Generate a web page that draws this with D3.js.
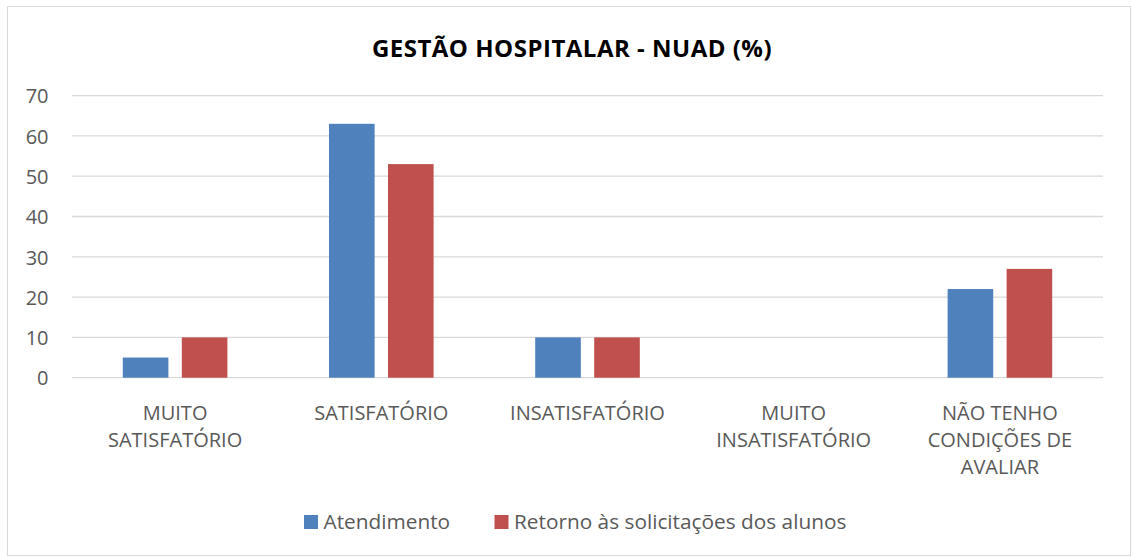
<!DOCTYPE html>
<html><head><meta charset="utf-8">
<script src="https://cdn.jsdelivr.net/npm/d3@7"></script>
<style>body{margin:0;background:#fff}svg{display:block}text{font-family:"Open Sans","Noto Sans",sans-serif}</style>
</head><body>
<svg id="c" width="1133" height="557"></svg>
<script>
const categories = [["MUITO","SATISFATÓRIO"],["SATISFATÓRIO"],["INSATISFATÓRIO"],["MUITO","INSATISFATÓRIO"],["NÃO TENHO","CONDIÇÕES DE","AVALIAR"]];
const seriesNames = ["Atendimento","Retorno às solicitações dos alunos"];
const atendimento = [5,63,10,0,22];
const retorno = [10,53,10,0,27];
const yTicks = [0,10,20,30,40,50,60,70];
const colors = ["#4F81BD","#C0504D"];

const svg = d3.select("#c");
svg.append("rect").attr("x",7.5).attr("y",6.5).attr("width",1123).attr("height",549)
  .attr("fill","#fff").attr("stroke","#d9d9d9");

const L=72,R=1103,T=95.6,B=377.7;
const x = d3.scaleBand().domain(d3.range(categories.length)).range([L,R]).paddingInner(0).paddingOuter(0);
const y = d3.scaleLinear().domain([0,70]).range([B,T]);
const xs = d3.scaleBand().domain([0,1]).range([0,x.bandwidth()]).paddingInner(0.227).paddingOuter(0.861);

// grid
svg.append("g").selectAll("line").data(yTicks).join("line")
  .attr("x1",L).attr("x2",R).attr("y1",d=>y(d)).attr("y2",d=>y(d))
  .attr("stroke","#d9d9d9").attr("stroke-width",1.3);

// y labels
const yAxis = d3.axisLeft(y).tickValues(yTicks).tickSize(0).tickPadding(0);
const ya = svg.append("g").attr("transform",`translate(48.5,0)`).call(yAxis);
ya.select(".domain").remove();
ya.selectAll("text").attr("fill","#595959").style("font-size","20px").style("font-family",null).attr("dy","0.36em");

// bars
const series=[atendimento,retorno];
series.forEach((s,si)=>{
  svg.append("g").selectAll("rect").data(s).join("rect")
    .attr("x",(d,i)=>x(i)+xs(si)).attr("width",xs.bandwidth())
    .attr("y",d=>y(d)).attr("height",d=>B-y(d))
    .attr("fill",colors[si]);
});

// x labels
const xl = svg.append("g");
categories.forEach((lines,i)=>{
  const t = xl.append("text").attr("text-anchor","middle").attr("fill","#595959").style("font-size","20px");
  lines.forEach((ln,j)=>{
    t.append("tspan").attr("x",x(i)+x.bandwidth()/2).attr("y",420+j*27).text(ln);
  });
});

// title
svg.append("text").attr("x",572).attr("y",56.5).attr("text-anchor","middle")
  .style("font-size","24px").style("font-weight","bold").style("letter-spacing","0.5px").attr("fill","#000")
  .text("GESTÃO HOSPITALAR - NUAD (%)");

// legend
const legX=[304,494.5];
seriesNames.forEach((n,i)=>{
  svg.append("rect").attr("x",legX[i]).attr("y",515).attr("width",14).attr("height",14).attr("fill",colors[i]);
  svg.append("text").attr("x",legX[i]+19.5).attr("y",529).attr("fill","#595959").style("font-size","20.8px").text(n);
});
</script>
</body></html>
